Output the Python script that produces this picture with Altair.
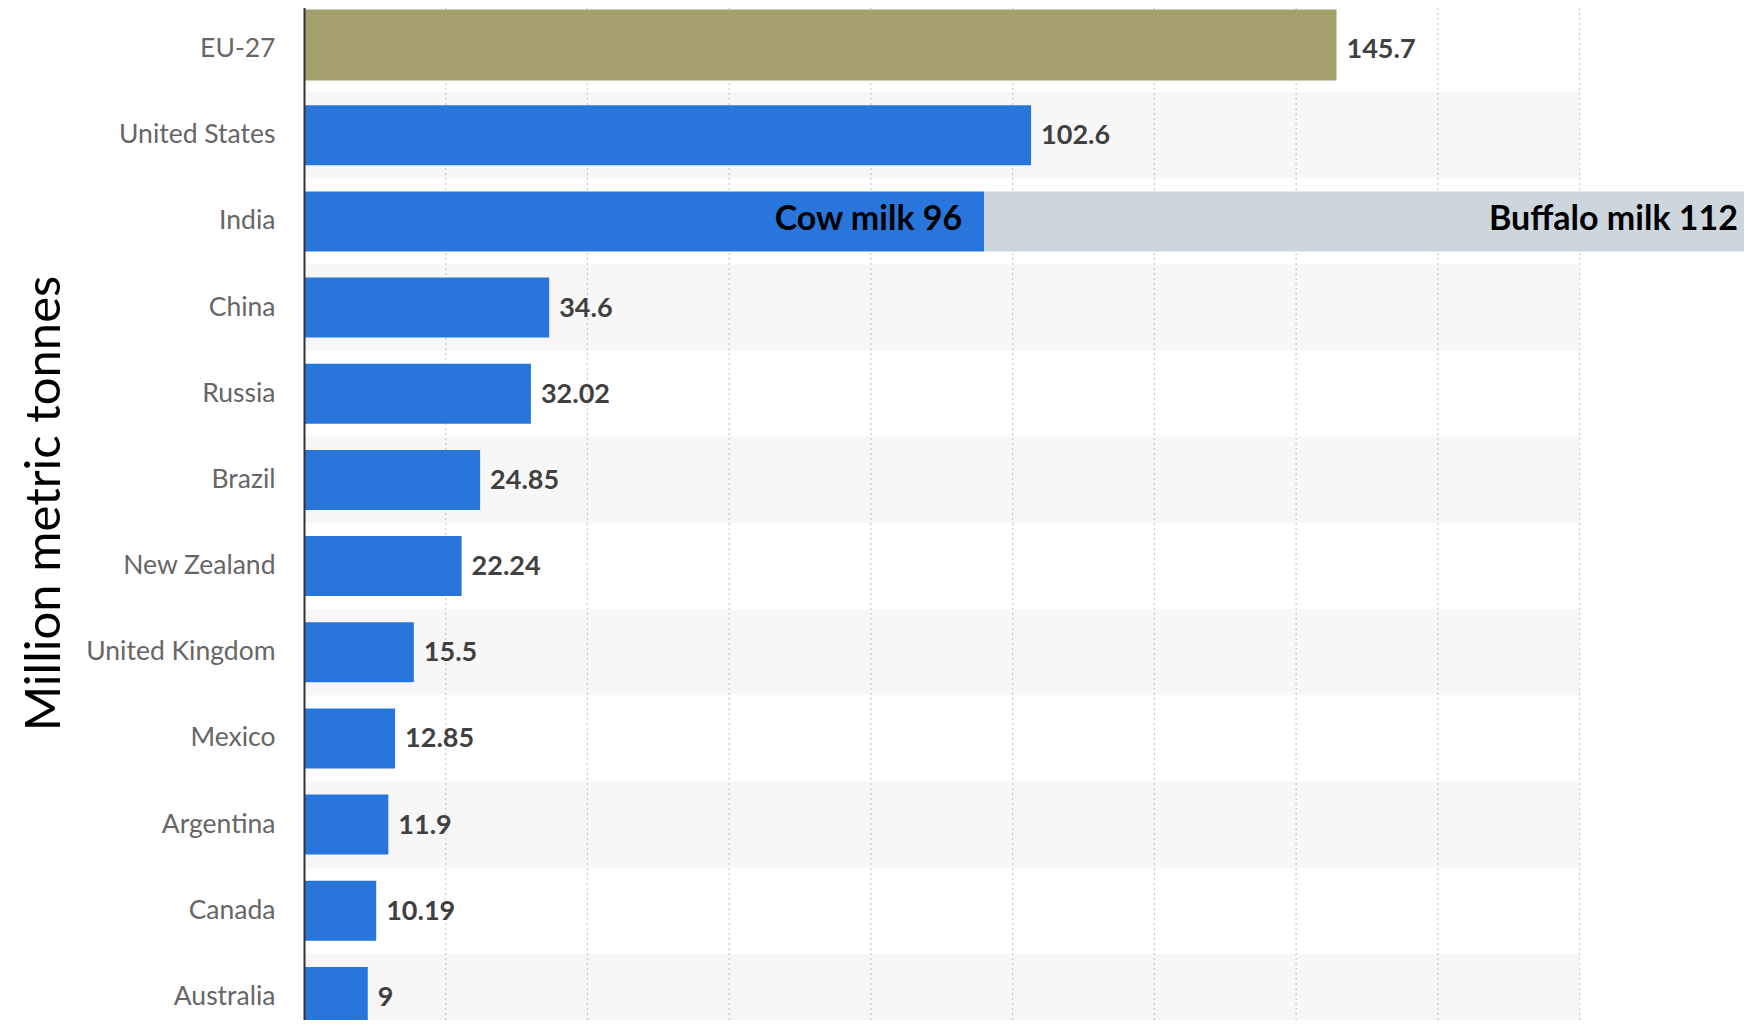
import altair as alt
import pandas as pd

countries = ["EU-27", "United States", "India", "China", "Russia", "Brazil",
             "New Zealand", "United Kingdom", "Mexico", "Argentina", "Canada", "Australia"]
values = [145.7, 102.6, None, 34.6, 32.02, 24.85, 22.24, 15.5, 12.85, 11.9, 10.19, 9]
india_cow = 96
india_buffalo = 112
grid_values = [20, 40, 60, 80, 100, 120, 140, 160, 180]
stripe_end = 180

# ---- tables built from the lists above ----
eu_df = pd.DataFrame({"country": [countries[0]], "start": [0], "end": [values[0]],
                      "label": [f"{values[0]:g}"]})
rows = []
for c, v in zip(countries[1:], values[1:]):
    if v is None:
        continue
    rows.append({"country": c, "start": 0, "end": v, "grp": "blue", "label": f"{v:g}"})
rows.append({"country": "India", "start": 0, "end": india_cow, "grp": "blue", "label": ""})
rows.append({"country": "India", "start": india_cow, "end": india_cow + india_buffalo,
             "grp": "grey", "label": ""})
bars_df = pd.DataFrame(rows)
labels_df = pd.concat([eu_df[["country", "end", "label"]],
                       bars_df[bars_df["label"] != ""][["country", "end", "label"]]])
india_txt = pd.DataFrame({
    "country": ["India", "India"],
    "end": [india_cow, india_cow + india_buffalo],
    "label": [f"Cow milk {india_cow}", f"Buffalo milk {india_buffalo}"],
    "kind": ["cow", "buffalo"],
})
stripes_df = pd.DataFrame({"country": countries[1::2], "start": 0, "end": stripe_end})
grid_df = pd.DataFrame({"g": grid_values})

y_enc = alt.Y(
    "country:N",
    sort=countries,
    scale=alt.Scale(domain=countries, range=[-2, 1032], paddingInner=0, paddingOuter=0),
    axis=alt.Axis(
        title="Million metric tonnes",
        titleFont="Lato", titleFontSize=49, titleFontWeight="normal", titleColor="#000000",
        titleAngle=270, titleAlign="center", titleBaseline="alphabetic",
        titleX=-245, titleY=495,
        labelFont="Lato", labelFontSize=26.5, labelColor="#666666", labelPadding=29,
        ticks=False, domainColor="#333333", domainWidth=2, zindex=1,
        labelLimit=400,
    ),
)
x_scale = alt.Scale(domain=[0, 203.2], nice=False, zero=True)

stripes = alt.Chart(stripes_df).mark_rect(color="#f7f7f7").encode(
    y=y_enc,
    x=alt.X("start:Q", scale=x_scale, axis=None),
    x2="end:Q",
)

grid = alt.Chart(grid_df).mark_rule(color="#c8c8c8", strokeDash=[2, 3], strokeWidth=1.2).encode(
    x=alt.X("g:Q", scale=x_scale, axis=None),
)

bars = alt.Chart(bars_df).mark_bar(height=60, clip=True).encode(
    y=y_enc,
    x=alt.X("start:Q", scale=x_scale, axis=None),
    x2="end:Q",
    color=alt.Color("grp:N", scale=alt.Scale(domain=["blue", "grey"],
                                             range=["#2876dc", "#cdd5dd"]), legend=None),
)

eu_bar = alt.Chart(eu_df).mark_bar(height=71, yOffset=-4, color="#a3a06e", clip=True).encode(
    y=y_enc,
    x=alt.X("start:Q", scale=x_scale, axis=None),
    x2="end:Q",
)

value_labels = alt.Chart(labels_df).mark_text(
    align="left", baseline="middle", dx=10, dy=1, font="Lato", fontWeight="bold",
    fontSize=27, color="#404040",
).encode(
    y=y_enc,
    x=alt.X("end:Q", scale=x_scale, axis=None),
    text="label:N",
)

cow_txt = alt.Chart(india_txt[india_txt["kind"] == "cow"]).mark_text(
    align="right", baseline="middle", dx=-22, dy=-1, font="Lato", fontWeight="bold",
    fontSize=34, color="#000000",
).encode(y=y_enc, x=alt.X("end:Q", scale=x_scale, axis=None), text="label:N")

buf_txt = alt.Chart(india_txt[india_txt["kind"] == "buffalo"]).mark_text(
    align="right", baseline="middle", dx=-40, dy=-1, font="Lato", fontWeight="bold",
    fontSize=34, color="#000000",
).encode(y=y_enc, x=alt.X("end:Q", scale=x_scale, axis=None), text="label:N")

chart = alt.layer(stripes, grid, bars, eu_bar, value_labels, cow_txt, buf_txt).properties(
    width=1440,
    height=1012,
    autosize=alt.AutoSizeParams(type="none"),
    padding={"left": 296, "top": 0, "right": 0, "bottom": 0},
    background="#ffffff",
).configure_view(stroke=None)

chart.save("out.html", embed_options={"renderer": "svg", "actions": False})
